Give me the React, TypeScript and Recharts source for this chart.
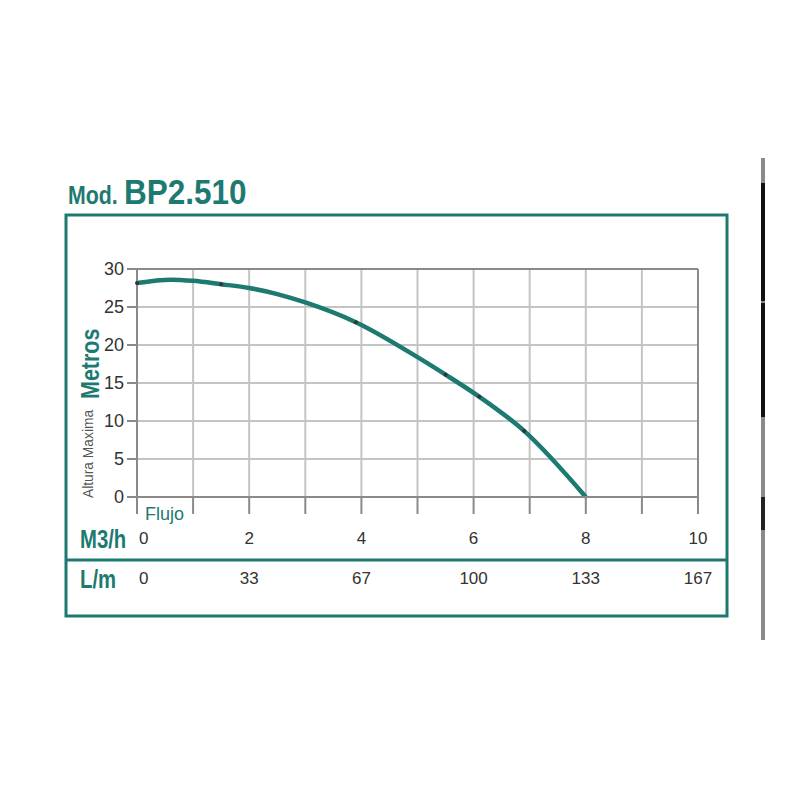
import React from 'react';
import { LineChart, Line, XAxis, YAxis, CartesianGrid, ReferenceLine } from 'recharts';

// pump curve (flow in m3/h, head in metres)
const FLOW = [0, 0.6, 1, 1.5, 2, 2.5, 3, 3.9, 5, 5.5, 6.1, 6.9, 8.0];
const HEAD = [28.15, 28.6, 28.45, 28.0, 27.5, 26.7, 25.6, 23.0, 18.4, 16.1, 13.2, 8.7, 0];
const MARKED = [true, false, false, true, false, false, false, true, false, true, true, true, false];

const FLOW_TICKS = [0, 1, 2, 3, 4, 5, 6, 7, 8, 9, 10];
const M3H_LABELS = ['0', '2', '4', '6', '8', '10'];
const LM_LABELS = ['0', '33', '67', '100', '133', '167'];
const HEAD_TICKS = [0, 5, 10, 15, 20, 25, 30];

const TEAL = '#1d7a70';
const SANS = "'Liberation Sans', Arial, sans-serif";

const data = FLOW.map((f, i) => ({ flow: f, head: HEAD[i], marked: MARKED[i] }));

// condensed bold text: Liberation Sans Bold squeezed horizontally
const Narrow = ({ x, y, size, sx, rotate, color, weight, children }: any) => (
  <text
    transform={`translate(${x},${y}) rotate(${rotate || 0}) scale(${sx},1)`}
    fontFamily={SANS}
    fontWeight={weight || 'bold'}
    fontSize={size}
    fill={color || TEAL}
  >
    {children}
  </text>
);

const FlowTick = (props: any) => {
  const { x, y, payload } = props;
  const v = payload.value;
  if (v % 2 !== 0) return <g />;
  const idx = v / 2;
  const anchor = v === 0 ? 'start' : 'middle';
  const dx = v === 0 ? 2 : 0;
  return (
    <g>
      <text x={x + dx} y={y + 28} textAnchor={anchor} fontSize={17} fill="#333" fontFamily={SANS}>
        {M3H_LABELS[idx]}
      </text>
      <text x={x + dx} y={y + 68} textAnchor={anchor} fontSize={17} fill="#333" fontFamily={SANS}>
        {LM_LABELS[idx]}
      </text>
    </g>
  );
};

const CurveDot = (props: any) => {
  const { cx, cy, index, payload } = props;
  if (!payload.marked) return <g key={index} />;
  return <circle key={index} cx={cx} cy={cy} r={2} fill="#333" />;
};

export default function App() {
  return (
    <div style={{ position: 'absolute', left: 0, top: 0, width: 800, height: 800, background: '#fff' }}>
      <svg width={800} height={800} style={{ position: 'absolute', left: 0, top: 0 }}>
        <Narrow x={68} y={204} size={26} sx={0.82}>Mod.</Narrow>
        <Narrow x={124} y={204} size={35} sx={0.9}>BP2.510</Narrow>
        <rect x={66} y={215} width={661} height={401} fill="none" stroke={TEAL} strokeWidth={3} />
        <line x1={66} x2={727} y1={560} y2={560} stroke={TEAL} strokeWidth={3} />
        <Narrow x={80} y={548} size={26} sx={0.78}>M3/h</Narrow>
        <Narrow x={80} y={588} size={26} sx={0.78}>L/m</Narrow>
        <text x={145} y={520} fontFamily={SANS} fontSize={18} fill={TEAL}>Flujo</text>
        <Narrow x={93} y={498} size={15} sx={0.92} rotate={-90} color="#555" weight="normal">
          Altura Maxima
        </Narrow>
        <Narrow x={99} y={399} size={25} sx={0.86} rotate={-90}>Metros</Narrow>
        {/* page edge strip at the right */}
        <rect x={761} y={158} width={4} height={482} fill="#8a8a8a" />
        <rect x={761} y={183} width={4} height={118} fill="#111" />
        <rect x={761} y={303} width={4} height={114} fill="#111" />
        <rect x={761} y={497} width={4} height={33} fill="#222" />
      </svg>
      <div style={{ position: 'absolute', left: 0, top: 0 }}>
        <LineChart width={800} height={800} data={data} margin={{ top: 269, right: 102, bottom: 243, left: 97 }}>
          <CartesianGrid stroke="#c4c4c4" strokeWidth={2} />
          <XAxis
            type="number"
            dataKey="flow"
            domain={[0, 10]}
            ticks={FLOW_TICKS}
            interval={0}
            height={60}
            tickSize={17}
            tick={<FlowTick />}
            axisLine={{ stroke: '#8a8a8a', strokeWidth: 2 }}
            tickLine={{ stroke: '#8a8a8a', strokeWidth: 2 }}
          />
          <YAxis
            type="number"
            dataKey="head"
            domain={[0, 30]}
            ticks={HEAD_TICKS}
            interval={0}
            width={40}
            tickSize={10}
            tickMargin={3}
            tick={{ fontSize: 18, fill: '#333', fontFamily: SANS }}
            axisLine={{ stroke: '#8a8a8a', strokeWidth: 2 }}
            tickLine={{ stroke: '#8a8a8a', strokeWidth: 2 }}
          />
          <ReferenceLine y={30} stroke="#8a8a8a" strokeWidth={2} />
          <ReferenceLine x={10} stroke="#8a8a8a" strokeWidth={2} />
          <Line
            type="monotone"
            dataKey="head"
            stroke={TEAL}
            strokeWidth={4.5}
            dot={<CurveDot />}
            activeDot={false}
            isAnimationActive={false}
          />
        </LineChart>
      </div>
    </div>
  );
}
